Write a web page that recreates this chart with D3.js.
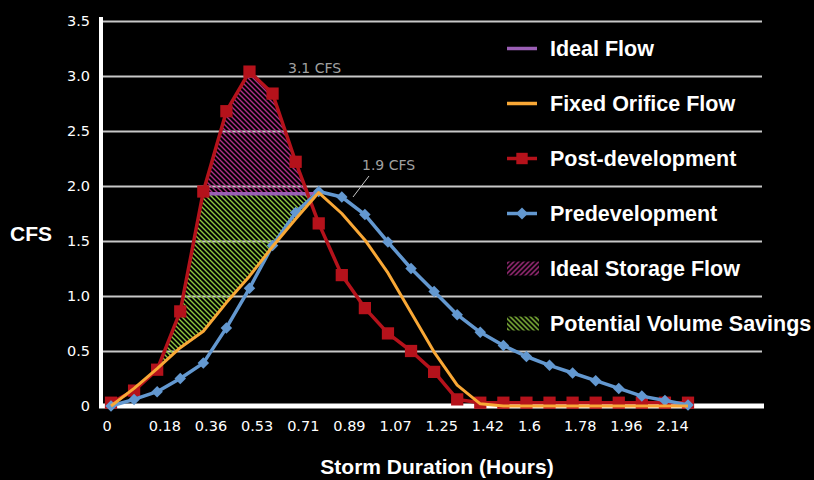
<!DOCTYPE html>
<html>
<head>
<meta charset="utf-8">
<script src="https://cdn.jsdelivr.net/npm/d3@7"></script>
<style>
  html, body { margin: 0; padding: 0; background: #000; }
  svg { display: block; }
</style>
</head>
<body>
<div id="chart"></div>
<script>
'use strict';

// Values: one point every 0.089 hours (26 points)
var xLabels = ["0", "0.18", "0.36", "0.53", "0.71", "0.89", "1.07", "1.25", "1.42", "1.6", "1.78", "1.96", "2.14"];
var yTicks = [0, 0.5, 1.0, 1.5, 2.0, 2.5, 3.0, 3.5];

var postDevelopment = [0.03, 0.14, 0.33, 0.86, 1.95, 2.68, 3.04, 2.84, 2.22, 1.66, 1.19, 0.89, 0.66,
	0.50, 0.31, 0.06, 0.03, 0.03, 0.03, 0.03, 0.03, 0.03, 0.03, 0.03, 0.03, 0.03];
var predevelopment = [0.0, 0.06, 0.13, 0.25, 0.39, 0.71, 1.07, 1.46, 1.76, 1.95, 1.90, 1.74, 1.49,
	1.25, 1.04, 0.83, 0.67, 0.55, 0.45, 0.37, 0.30, 0.23, 0.16, 0.09, 0.05, 0.01];
var fixedOrifice = [0.0, 0.16, 0.34, 0.53, 0.68, 0.94, 1.18, 1.45, 1.70, 1.94, 1.75, 1.51, 1.21,
	0.85, 0.49, 0.19, 0.02, 0, 0, 0, 0, 0, 0, 0, 0, 0];
var idealFlow = [null, null, null, null, 1.93, 1.93, 1.93, 1.93, 1.93, 1.93, null, null, null,
	null, null, null, null, null, null, null, null, null, null, null, null, null];

var legendItems = ["Ideal Flow", "Fixed Orifice Flow", "Post-development", "Predevelopment",
	"Ideal Storage Flow", "Potential Volume Savings"];

var colors = {
	ideal: "#9b5fb5",
	orifice: "#f9a836",
	post: "#b5121b",
	pre: "#6398d0",
	storage: "#ad2f86",
	savings: "#8dc63f",
	grid: "#c8c8c8",
	note: "#a0a0a0"
};

var W = 814, H = 480;
var plot = {left: 101, right: 762, top: 21, bottom: 406};

var svg = d3.select("#chart").append("svg")
	.attr("width", W)
	.attr("height", H);

var x = d3.scaleLinear().domain([0, 25]).range([111, 688]);
var y = d3.scaleLinear().domain([0, 3.5]).range([plot.bottom, plot.top]);
var idx = d3.range(postDevelopment.length);

// Hatch patterns
var defs = svg.append("defs");
function hatch(id, color, dir) {
	var p = defs.append("pattern")
		.attr("id", id)
		.attr("patternUnits", "userSpaceOnUse")
		.attr("width", 5)
		.attr("height", 5);
	p.append("path")
		.attr("d", dir > 0
			? "M-1,1 l2,-2 M0,5 l5,-5 M4,6 l2,-2"
			: "M-1,4 l2,2 M0,0 l5,5 M4,-1 l2,2")
		.attr("stroke", color)
		.attr("stroke-width", 1.4);
}
hatch("storageHatch", colors.storage, -1);
hatch("savingsHatch", colors.savings, -1);
hatch("storageHatchL", colors.storage, 1);
hatch("savingsHatchL", colors.savings, -1);

// Grid lines
var yGrid = d3.axisLeft(y)
	.tickValues(yTicks)
	.tickSize(-(plot.right - plot.left))
	.tickFormat("");
svg.append("g")
	.attr("class", "grid")
	.attr("transform", "translate(" + plot.left + ",0)")
	.call(yGrid)
	.call(function(g) { g.select(".domain").remove(); })
	.selectAll("line")
	.attr("stroke", colors.grid)
	.attr("stroke-width", 2);

// Axis lines
svg.append("line")
	.attr("x1", 99).attr("x2", 764)
	.attr("y1", y(0)).attr("y2", y(0))
	.attr("stroke", "#fff").attr("stroke-width", 5);
svg.append("line")
	.attr("x1", plot.left).attr("x2", plot.left)
	.attr("y1", 17).attr("y2", 408)
	.attr("stroke", "#fff").attr("stroke-width", 4);

// Y tick labels
var yAxis = d3.axisLeft(y)
	.tickValues(yTicks)
	.tickSize(0)
	.tickPadding(11)
	.tickFormat(function(d) { return d === 0 ? "0" : d.toFixed(1); });
svg.append("g")
	.attr("transform", "translate(" + plot.left + ",0)")
	.call(yAxis)
	.call(function(g) { g.select(".domain").remove(); })
	.selectAll("text")
	.attr("fill", "#fff")
	.attr("font-family", "DejaVu Sans")
	.attr("font-size", 14.5);

// X tick labels
var xAxis = d3.axisBottom(x)
	.tickValues(xLabels.map(function(_, i) { return i * 2; }))
	.tickSize(0)
	.tickPadding(0)
	.tickFormat(function(d, i) { return xLabels[i]; });
svg.append("g")
	.attr("transform", "translate(0," + plot.bottom + ")")
	.call(xAxis)
	.call(function(g) { g.select(".domain").remove(); })
	.selectAll("text")
	.attr("fill", "#fff")
	.attr("font-family", "DejaVu Sans")
	.attr("font-size", 14.5)
	.attr("text-anchor", "start")
	.attr("dx", -9)
	.attr("y", 25)
	.attr("dy", 0);

// Ideal storage (above ideal flow, under post-development curve)
var underPost = d3.area()
	.x(function(i) { return x(i); })
	.y0(y(0))
	.y1(function(i) { return y(postDevelopment[i]); });
defs.append("clipPath")
	.attr("id", "postClip")
	.append("path")
	.attr("d", underPost(idx));

var storageIdx = idx.filter(function(i) { return idealFlow[i] !== null; });
svg.append("path")
	.attr("clip-path", "url(#postClip)")
	.attr("fill", "url(#storageHatch)")
	.attr("d", d3.area()
		.x(function(i) { return x(i); })
		.y0(function(i) { return y(idealFlow[i]); })
		.y1(y(3.5))(storageIdx));

// Potential volume savings (between fixed orifice and post-dev / ideal flow)
var savingsIdx = d3.range(2, 10);
svg.append("path")
	.attr("fill", "url(#savingsHatch)")
	.attr("d", d3.area()
		.x(function(i) { return x(i); })
		.y0(function(i) { return y(fixedOrifice[i]); })
		.y1(function(i) {
			var top = idealFlow[i] !== null ? Math.min(postDevelopment[i], idealFlow[i]) : postDevelopment[i];
			return y(Math.max(top, fixedOrifice[i]));
		})(savingsIdx));

// Ideal flow line
svg.append("path")
	.attr("fill", "none")
	.attr("stroke", colors.ideal)
	.attr("stroke-width", 3.5)
	.attr("d", d3.line()
		.defined(function(i) { return idealFlow[i] !== null; })
		.x(function(i) { return x(i); })
		.y(function(i) { return y(idealFlow[i]); })(idx));

function lineOf(values) {
	return d3.line()
		.x(function(i) { return x(i); })
		.y(function(i) { return y(values[i]); })(idx);
}

// Post-development
svg.append("path")
	.attr("fill", "none")
	.attr("stroke", colors.post)
	.attr("stroke-width", 3.5)
	.attr("stroke-linejoin", "round")
	.attr("d", lineOf(postDevelopment));
svg.append("g").selectAll("path")
	.data(idx)
	.join("path")
	.attr("transform", function(i) { return "translate(" + x(i) + "," + y(postDevelopment[i]) + ")"; })
	.attr("d", d3.symbol(d3.symbolSquare, 150))
	.attr("fill", colors.post);

// Predevelopment
svg.append("path")
	.attr("fill", "none")
	.attr("stroke", colors.pre)
	.attr("stroke-width", 3.5)
	.attr("stroke-linejoin", "round")
	.attr("d", lineOf(predevelopment));
svg.append("g").selectAll("path")
	.data(idx)
	.join("path")
	.attr("transform", function(i) { return "translate(" + x(i) + "," + y(predevelopment[i]) + ") rotate(45)"; })
	.attr("d", d3.symbol(d3.symbolSquare, 66))
	.attr("fill", colors.pre);

// Fixed orifice
svg.append("path")
	.attr("fill", "none")
	.attr("stroke", colors.orifice)
	.attr("stroke-width", 3)
	.attr("stroke-linejoin", "round")
	.attr("d", lineOf(fixedOrifice));

// Annotations
svg.append("text")
	.attr("x", 288).attr("y", 73)
	.attr("fill", colors.note)
	.attr("font-family", "DejaVu Sans")
	.attr("font-size", 14)
	.text("3.1 CFS");
svg.append("text")
	.attr("x", 362).attr("y", 170)
	.attr("fill", colors.note)
	.attr("font-family", "DejaVu Sans")
	.attr("font-size", 14)
	.text("1.9 CFS");
svg.append("line")
	.attr("x1", 369).attr("y1", 176)
	.attr("x2", 353).attr("y2", 197)
	.attr("stroke", "#c8c8c8")
	.attr("stroke-width", 1);

// Axis titles
svg.append("text")
	.attr("x", 10).attr("y", 241)
	.attr("fill", "#fff")
	.attr("font-family", "Liberation Sans")
	.attr("font-weight", "bold")
	.attr("font-size", 21)
	.text("CFS");
svg.append("text")
	.attr("x", 437).attr("y", 474)
	.attr("text-anchor", "middle")
	.attr("fill", "#fff")
	.attr("font-family", "Liberation Sans")
	.attr("font-weight", "bold")
	.attr("font-size", 21)
	.text("Storm Duration (Hours)");

// Legend, one row between each pair of grid lines
var rowY = d3.scalePoint().domain(legendItems).range([y(3.25), y(0.75)]);
var legend = svg.append("g").selectAll("g")
	.data(legendItems)
	.join("g")
	.attr("transform", function(d) { return "translate(507," + rowY(d) + ")"; });
legend.append("text")
	.attr("x", 43)
	.attr("dy", "0.36em")
	.attr("fill", "#fff")
	.attr("font-family", "Liberation Sans")
	.attr("font-weight", "bold")
	.attr("font-size", 21.5)
	.text(function(d) { return d; });

var lineKeys = [colors.ideal, colors.orifice, colors.post, colors.pre];
legend.filter(function(d, i) { return i < 4; })
	.append("line")
	.attr("x1", 0).attr("x2", 30)
	.attr("stroke", function(d, i) { return lineKeys[i]; })
	.attr("stroke-width", 3.5);
legend.filter(function(d, i) { return i === 2; })
	.append("path")
	.attr("transform", "translate(15,0)")
	.attr("d", d3.symbol(d3.symbolSquare, 130))
	.attr("fill", colors.post);
legend.filter(function(d, i) { return i === 3; })
	.append("path")
	.attr("transform", "translate(15,0) rotate(45)")
	.attr("d", d3.symbol(d3.symbolSquare, 72))
	.attr("fill", colors.pre);
legend.filter(function(d, i) { return i >= 4; })
	.append("rect")
	.attr("x", 0).attr("y", -7)
	.attr("width", 32).attr("height", 14)
	.attr("fill", function(d, i) { return i === 0 ? "url(#storageHatchL)" : "url(#savingsHatchL)"; });
</script>
</body>
</html>
